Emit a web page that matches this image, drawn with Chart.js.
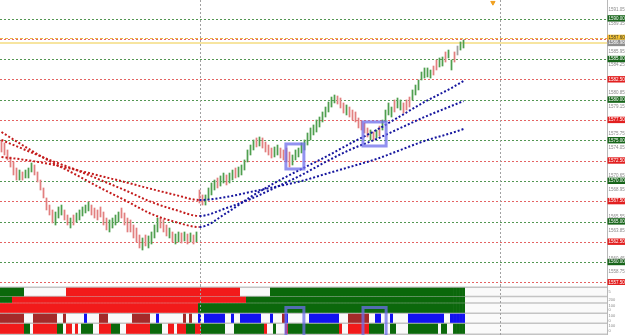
<!DOCTYPE html>
<html><head><meta charset="utf-8">
<script src="https://cdn.jsdelivr.net/npm/chart.js@4.4.1/dist/chart.umd.min.js"></script>
<style>
html,body{margin:0;padding:0;background:#fff;width:625px;height:335px;overflow:hidden}
#c1{position:absolute;left:0;top:0}
#c2{position:absolute;left:0;top:285px}
</style></head><body>
<canvas id="c1" width="625" height="285"></canvas>
<canvas id="c2" width="625" height="50"></canvas>
<script>
// ---------------- DATA ----------------
const highs = [
1575.04,1574.67,1573.81,1572.95,1572.33,1571.59,1571.34,1571.10,1571.34,1571.59,
1572.21,1571.96,1571.10,1570.11,1569.13,1567.90,1567.03,1566.42,1566.17,1566.79,
1567.03,1566.42,1565.80,1565.43,1565.80,1566.05,1566.42,1566.79,1567.03,1567.40,
1567.03,1566.66,1566.42,1566.79,1566.17,1565.43,1565.19,1565.43,1565.80,1566.17,
1566.66,1566.05,1565.43,1565.19,1564.57,1564.20,1563.34,1562.97,1563.34,1563.22,
1563.71,1564.57,1565.43,1565.43,1565.19,1564.57,1564.20,1563.71,1563.46,1563.71,
1563.59,1563.71,1563.46,1563.59,1563.34,1563.71,1568.88,1568.27,1568.27,1569.13,
1569.74,1570.11,1570.36,1570.61,1570.97,1570.73,1570.97,1571.34,1571.59,1571.71,
1571.96,1572.58,1573.81,1574.42,1575.04,1575.29,1575.41,1575.29,1574.79,1574.42,
1574.05,1574.18,1574.42,1574.05,1573.81,1574.05,1573.56,1573.19,1573.81,1574.05,
1574.67,1575.04,1575.90,1576.52,1576.89,1577.50,1577.87,1578.49,1579.10,1579.72,
1580.33,1580.58,1580.46,1580.21,1579.60,1579.35,1579.10,1578.73,1578.49,1577.75,
1577.38,1577.13,1576.52,1576.27,1576.02,1576.27,1576.76,1577.50,1578.73,1579.60,
1579.10,1579.97,1580.21,1579.97,1579.60,1579.97,1580.33,1581.20,1581.81,1582.43,
1583.41,1583.91,1583.91,1583.66,1584.15,1584.89,1585.14,1585.26,1585.88,1586.12,
1584.89,1585.88,1586.61,1587.11,1587.35];
const lows = [
1573.56,1573.19,1572.58,1571.71,1570.73,1570.11,1570.11,1570.11,1570.36,1570.36,
1571.10,1570.73,1569.87,1568.88,1567.90,1566.42,1565.80,1564.82,1564.57,1565.43,
1565.80,1565.19,1564.57,1564.20,1564.57,1564.94,1565.19,1565.68,1566.05,1566.30,
1565.80,1565.43,1565.19,1565.56,1564.57,1563.96,1563.71,1564.20,1564.57,1564.94,
1565.43,1564.57,1563.71,1563.71,1562.97,1562.48,1561.74,1561.49,1561.99,1561.74,
1562.23,1562.97,1563.71,1564.20,1563.71,1563.22,1562.97,1562.48,1562.23,1562.48,
1562.35,1562.60,1562.23,1562.48,1562.23,1562.48,1567.28,1567.03,1567.03,1567.65,
1568.27,1568.88,1569.13,1569.37,1569.74,1569.50,1569.74,1570.11,1570.36,1570.48,
1570.73,1571.34,1572.33,1573.19,1573.81,1574.18,1574.30,1574.05,1573.56,1573.19,
1572.82,1572.95,1573.19,1572.82,1572.58,1572.33,1571.71,1571.96,1572.58,1572.95,
1573.44,1573.81,1574.42,1575.04,1575.66,1576.02,1576.64,1577.26,1577.87,1578.49,
1579.10,1579.60,1579.47,1578.98,1578.36,1578.12,1577.87,1577.50,1577.26,1576.52,
1576.27,1575.90,1575.41,1575.04,1575.04,1575.29,1575.53,1576.27,1577.26,1578.12,
1577.87,1578.49,1578.98,1578.73,1578.36,1578.73,1579.10,1579.97,1580.58,1581.20,
1582.43,1582.67,1582.80,1582.67,1583.04,1583.66,1584.03,1584.15,1584.64,1585.14,
1583.66,1584.64,1585.51,1586.12,1586.37];
// u = up bar, d = down bar, n = unchanged
const barDir = "dddddduduuuddddddduuudduduuuuudddddduuuudddddddudu" +
               "uuuddduduududududduuuuduuduuduuuuuududddduudddduuu" +
               "uuuuuuuuuuuudddudddddddududuuuuduuddduuuuuuudduuduud" + "nuuud";

// moving averages, read at selected bars
const maIndex = [0,8,16,25,33,41,50,58,66,75,83,91,100,108,116,125,133,141,150,154];
const maFast  = [1576.02,1574.18,1572.45,1570.73,1569.13,1567.65,1565.93,1564.94,1564.32,1566.05,1568.02,1569.74,1571.47,1572.95,1574.55,1576.27,1577.99,1579.72,1581.44,1582.30];
const maMid   = [1575.04,1573.81,1572.58,1571.34,1570.11,1568.88,1567.40,1566.42,1565.68,1566.66,1567.77,1569.13,1570.73,1572.33,1573.81,1575.16,1576.52,1577.87,1579.23,1579.84];
const maSlow  = [1572.95,1572.58,1572.08,1571.34,1570.61,1569.87,1569.00,1568.27,1567.65,1568.02,1568.64,1569.25,1569.99,1570.85,1571.71,1572.70,1573.81,1574.92,1575.90,1576.39];
const maColorSwitch = 66;

// price axis
const gridLevels = [1557.5,1560,1562.5,1565,1567.5,1570,1572.5,1575,1577.5,1580,1582.5,1585,1587.5,1590];
const minorTicks = [1558.75,1560.45,1563.85,1565.55,1568.95,1570.65,1574.05,1575.75,1579.15,1580.85,1584.25,1585.95,1589.35,1591.05];
const levelPrice = 1587.60;
const bidPrice = 1586.98;
const sessionStarts = [66, 166];
const highlightBoxes = [
  {from: 94.8, to: 100.8, high: 1574.55, low: 1571.47},
  {from: 120.5, to: 128.2, high: 1577.26, low: 1574.30}
];
const topMarker = [{x: 163.8, y: 1591.95}];

// indicator rows (run-length: colour code + number of bars)
const row0 = "G8 W14 R58 W10 G65";
const row1 = "G4 R78 G73";
const row2 = "R66 G89";
const row3 = "M8 W3 M8 W2 M1 W6 B1 W4 M3 W8 M6 W2 B1 W8 M1 W1 M1 W2 B1 W1 B7 W2 B1 W2 B7 W3 B1 W3 M1 B1 W7 B10 W3 M7 W2 B2 W3 B1 W5 B12 W2 B5";
const row4 = "R8 G2 W1 R8 G2 W1 R2 W1 R1 W1 G4 W2 R4 G3 W2 R8 G4 W2 R2 W1 R3 G3 R2 G8 W3 G10 R1 W2 G1 W3 R1 G17 R1 W2 R7 G5 W2 G2 W4 G10 W1 G2 W2 G4";
const indTickValues = [7, 14.5, 20.5, 25, 31, 35.5, 41, 46];
const indTickLabels = ['5', '200', '100', '0', '100', '0', '100', '0'];

// ---------------- STYLE / LAYOUT ----------------
Chart.defaults.animation = false;
Chart.defaults.font.family = "'Liberation Sans', Arial, sans-serif";
const xMin = -0.5, xMax = 201.83;
const AXIS_W = 18;
const upC = '#4f9f4f', dnC = '#e27f7f', nC = '#a0a0a0';
const cellColors = {G:'#0b680b', R:'#f21a1a', B:'#1212f0', M:'#a42a2a'};
const rowBands = [[3,11],[12,17.5],[18.5,27.5],[29,37.5],[39,48.5]];
const rowSeps = [2.2, 11.5, 18, 28.2, 38.2, 49.2];
const boxColor = 'rgba(110,110,235,0.75)';

function tickKind(v){
  if (Math.abs(v-levelPrice) < 1e-6) return 'level';
  if (Math.abs(v-bidPrice) < 1e-6) return 'bid';
  if (gridLevels.some(g => Math.abs(g-v) < 1e-6)) return Math.abs(v/5 - Math.round(v/5)) < 1e-6 ? 'major' : 'half';
  return 'minor';
}
const allTicks = [...gridLevels, ...minorTicks, levelPrice, bidPrice];

const bars = highs.map((h,i) => ({x:i, y:[lows[i], h]}));
const barColors = barDir.split('').map(c => c === 'u' ? upC : c === 'd' ? dnC : nC);
const maData = vals => maIndex.map((x,k) => ({x, y: vals[k]}));
const maSeg = {borderColor: c => c.p0.parsed.x < maColorSwitch ? '#c41c1c' : '#16169e'};

function maDataset(vals){
  return {type:'line', data: maData(vals), borderWidth:2, borderDash:[2,2], pointRadius:0, pointHoverRadius:0,
          cubicInterpolationMode:'monotone', borderColor:'#16169e', segment: maSeg, order:1};
}

const pricePlugin = {
  id:'pricePane',
  beforeDatasetsDraw(chart){
    const {ctx, chartArea:a, scales:{x,y}} = chart;
    ctx.save();
    ctx.lineWidth = 1;
    ctx.setLineDash([2,2]);
    gridLevels.forEach(v => {
      const py = Math.round(y.getPixelForValue(v)) + 0.5;
      ctx.strokeStyle = tickKind(v) === 'major' ? 'rgba(40,125,40,0.8)' : 'rgba(222,60,60,0.8)';
      ctx.beginPath(); ctx.moveTo(a.left, py); ctx.lineTo(a.right, py); ctx.stroke();
    });
    ctx.strokeStyle = '#a0a0a0';
    sessionStarts.forEach(s => {
      const px = Math.round(x.getPixelForValue(s)) + 0.5;
      ctx.beginPath(); ctx.moveTo(px, a.top); ctx.lineTo(px, a.bottom); ctx.stroke();
    });
    ctx.setLineDash([3,2]);
    ctx.strokeStyle = '#efb24a';
    let py = Math.round(y.getPixelForValue(levelPrice)) + 0.5;
    ctx.beginPath(); ctx.moveTo(a.left, py); ctx.lineTo(a.right, py); ctx.stroke();
    ctx.setLineDash([]);
    ctx.strokeStyle = '#f4dc80';
    ctx.lineWidth = 1.5;
    py = y.getPixelForValue(bidPrice);
    ctx.beginPath(); ctx.moveTo(a.left, py); ctx.lineTo(a.right, py); ctx.stroke();
    ctx.restore();
  },
  afterDatasetsDraw(chart){
    const {ctx, scales:{x,y}} = chart;
    ctx.save();
    ctx.strokeStyle = boxColor; ctx.lineWidth = 3;
    highlightBoxes.forEach(b => {
      const l = x.getPixelForValue(b.from), r = x.getPixelForValue(b.to);
      const t = y.getPixelForValue(b.high), bt = y.getPixelForValue(b.low);
      ctx.strokeRect(l, t, r-l, bt-t);
    });
    ctx.restore();
  }
};

new Chart(document.getElementById('c1'), {
  type:'bar',
  data:{datasets:[
    {type:'bar', data: bars, backgroundColor: barColors, barThickness:1.1, borderWidth:0, order:2},
    maDataset(maFast), maDataset(maMid), maDataset(maSlow),
    {type:'scatter', data: topMarker, pointStyle:'triangle', rotation:180, pointRadius:2.5, pointHoverRadius:2.5,
     backgroundColor:'#f0a020', borderColor:'#f0a020', order:0}
  ]},
  options:{
    responsive:false, devicePixelRatio:1,
    layout:{padding:0, autoPadding:false},
    plugins:{legend:{display:false}, tooltip:{enabled:false}},
    scales:{
      x:{type:'linear', min:xMin, max:xMax, display:false, offset:false, grid:{offset:false}},
      y:{type:'linear', position:'right', min:1557.18, max:1592.28,
         afterBuildTicks: s => { s.ticks = allTicks.map(v => ({value:v})); },
         afterFit: s => { s.width = AXIS_W; s.paddingTop = 0; s.paddingBottom = 0; },
         grid:{display:false, drawTicks:false},
         border:{display:true, color:'#b8b8b8', width:1},
         ticks:{autoSkip:false, padding:1.5,
           font:{size:4.5},
           callback: v => Number(v).toFixed(2),
           color: c => { const k = tickKind(c.tick.value); return k === 'minor' ? '#8a8a8a' : k === 'level' ? '#333' : '#ffffff'; },
           showLabelBackdrop: true,
           backdropPadding:{left:1, right:2, top:0.6, bottom:0.4},
           backdropColor: c => { const k = tickKind(c.tick.value);
             return k === 'major' ? '#17651a' : k === 'half' ? '#e21f1f' : k === 'level' ? '#f6c431' : k === 'bid' ? '#8e8e8e' : 'rgba(0,0,0,0)'; }
         }}
    }
  },
  plugins:[pricePlugin]
});

// ---------------- INDICATOR PANE ----------------
function expandRow(str){
  const out = [];
  str.split(' ').forEach(tok => { const c = tok[0], n = parseInt(tok.slice(1)); for (let k=0;k<n;k++) out.push(c); });
  return out;
}
const rows = [row0,row1,row2,row3,row4].map(expandRow);
const indDatasets = rows.map((cells, r) => {
  const pts = [], cols = [];
  cells.forEach((c,i) => { if (c !== 'W') { pts.push({x:i, y: rowBands[r]}); cols.push(cellColors[c]); } });
  return {type:'bar', data: pts, backgroundColor: cols, barThickness:2.3, borderWidth:0, grouped:false};
});

const indPlugin = {
  id:'indPane',
  beforeDatasetsDraw(chart){
    const {ctx, chartArea:a, scales:{x,y}} = chart;
    ctx.save();
    ctx.fillStyle = '#fafafa';
    rowBands.forEach(b => {
      const t = y.getPixelForValue(b[0]), bt = y.getPixelForValue(b[1]);
      ctx.fillRect(a.left, t, a.right-a.left, bt-t);
    });
    ctx.strokeStyle = '#c4c4c4'; ctx.lineWidth = 1.5;
    rowSeps.forEach(v => {
      const py = y.getPixelForValue(v);
      ctx.beginPath(); ctx.moveTo(a.left, py); ctx.lineTo(a.right, py); ctx.stroke();
    });
    ctx.restore();
  },
  afterDatasetsDraw(chart){
    const {ctx, chartArea:a, scales:{x,y}} = chart;
    ctx.save();
    ctx.strokeStyle = '#a0a0a0'; ctx.lineWidth = 1; ctx.setLineDash([2,2]);
    sessionStarts.forEach(s => {
      const px = Math.round(x.getPixelForValue(s)) + 0.5;
      ctx.beginPath(); ctx.moveTo(px, a.top); ctx.lineTo(px, a.bottom); ctx.stroke();
    });
    ctx.setLineDash([]);
    ctx.strokeStyle = boxColor; ctx.lineWidth = 3;
    highlightBoxes.forEach(b => {
      const l = x.getPixelForValue(b.from), r = x.getPixelForValue(b.to);
      const t = y.getPixelForValue(22.5), bt = y.getPixelForValue(52);
      ctx.strokeRect(l, t, r-l, bt-t);
    });
    ctx.restore();
  }
};

new Chart(document.getElementById('c2'), {
  type:'bar',
  data:{datasets: indDatasets},
  options:{
    responsive:false, devicePixelRatio:1,
    layout:{padding:0, autoPadding:false},
    plugins:{legend:{display:false}, tooltip:{enabled:false}},
    scales:{
      x:{type:'linear', min:xMin, max:xMax, display:false, offset:false, grid:{offset:false}},
      y:{type:'linear', position:'right', min:0, max:50, reverse:true,
         afterBuildTicks: s => { s.ticks = indTickValues.map(v => ({value:v})); },
         afterFit: s => { s.width = AXIS_W; s.paddingTop = 0; s.paddingBottom = 0; },
         grid:{display:false, drawTicks:false},
         border:{display:true, color:'#b8b8b8', width:1},
         ticks:{autoSkip:false, padding:1.5, font:{size:4}, color:'#8a8a8a',
           callback: (v, i) => indTickLabels[i]}
      }
    }
  },
  plugins:[indPlugin]
});
</script>
</body></html>
